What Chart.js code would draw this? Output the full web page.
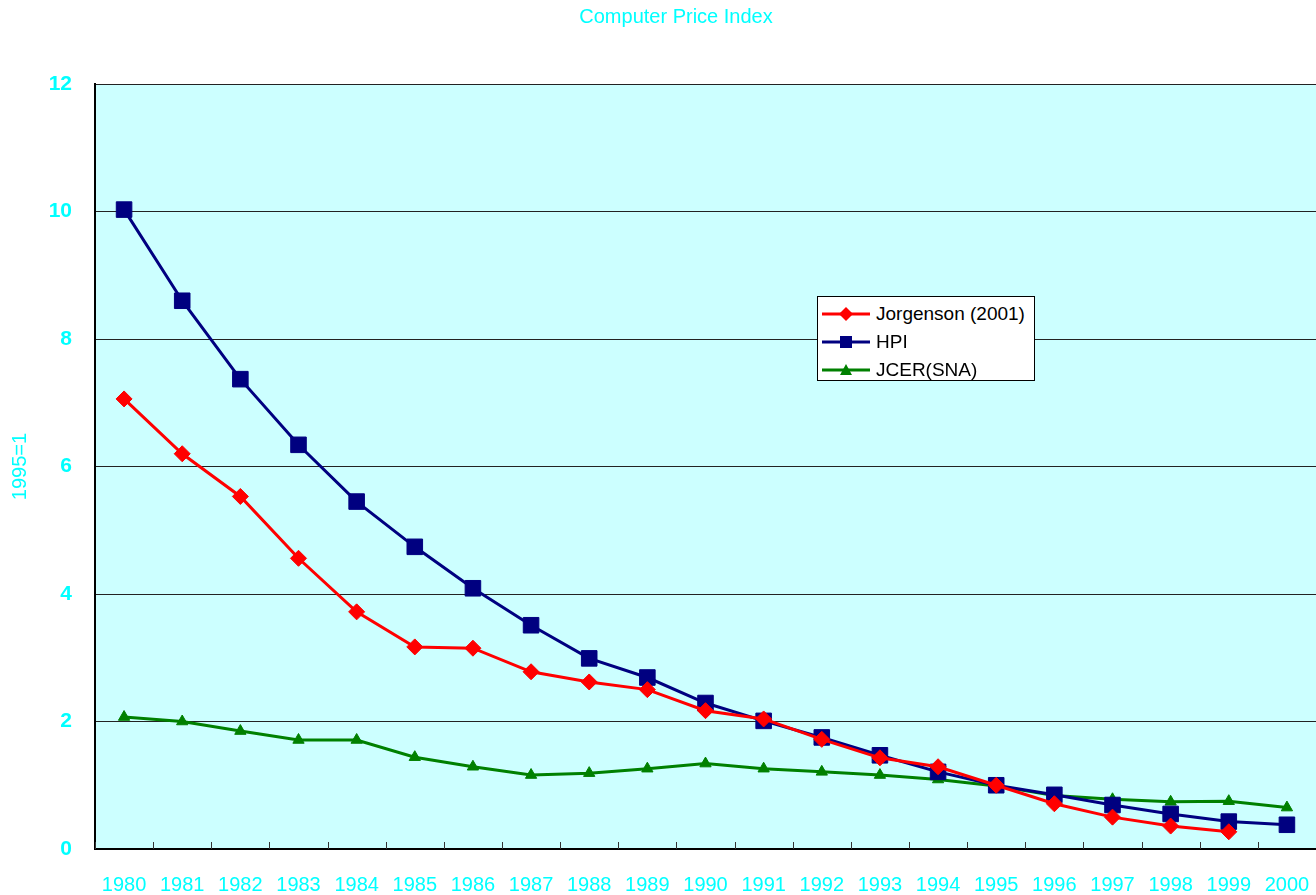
<!DOCTYPE html>
<html>
<head>
<meta charset="utf-8">
<script src="https://cdn.jsdelivr.net/npm/chart.js@4.4.0/dist/chart.umd.min.js"></script>
<style>
  html, body { margin: 0; padding: 0; background: #fff; }
  #wrap { position: relative; width: 1316px; height: 895px; }
  #legend { position: absolute; left: 817px; top: 296px; width: 216px; height: 83px;
            background: #fff; border: 1px solid #000; font-family: "Liberation Sans", Arial, sans-serif;
            font-size: 19px; color: #000; }
  .row { position: absolute; left: 4px; height: 28px; display: flex; align-items: center; white-space: nowrap; }
  .row svg { margin-right: 6px; }
</style>
</head>
<body>
<div id="wrap">
  <canvas id="c" width="1316" height="895"></canvas>
  <div id="legend"></div>
</div>
<script>
const years = ["1980","1981","1982","1983","1984","1985","1986","1987","1988","1989","1990",
               "1991","1992","1993","1994","1995","1996","1997","1998","1999","2000"];
const jorgenson = [7.06, 6.20, 5.53, 4.56, 3.72, 3.17, 3.15, 2.78, 2.62, 2.50, 2.17,
                   2.04, 1.72, 1.43, 1.29, 1.00, 0.71, 0.50, 0.36, 0.27, null];
const hpi = [10.03, 8.60, 7.37, 6.34, 5.45, 4.74, 4.09, 3.51, 2.99, 2.69, 2.29,
             2.01, 1.75, 1.47, 1.21, 1.00, 0.85, 0.69, 0.55, 0.43, 0.38];
const jcer = [2.07, 2.00, 1.85, 1.71, 1.71, 1.44, 1.29, 1.16, 1.19, 1.26, 1.34,
              1.26, 1.21, 1.16, 1.09, 0.99, 0.84, 0.78, 0.74, 0.75, 0.65];
const seriesNames = ["Jorgenson (2001)", "HPI", "JCER(SNA)"];
const yTicks = [0, 2, 4, 6, 8, 10, 12];

const cyan = "#00FFFF";
const fontFam = '"Liberation Sans", Arial, sans-serif';

const bgPlugin = {
  id: 'plotBg',
  afterLayout(chart) {
    // shift the title's box so it centres where the original does
    if (chart.titleBlock) chart.titleBlock.left = 36;
  },
  beforeDraw(chart) {
    const {ctx, chartArea: a} = chart;
    ctx.save();
    ctx.fillStyle = '#CCFFFF';
    ctx.fillRect(a.left, a.top, a.right - a.left, a.bottom - a.top);
    ctx.restore();
  },
  beforeDatasetsDraw(chart) {
    // inside tick marks on the category axis (between categories)
    const {ctx, chartArea: a} = chart;
    const xs = chart.scales.x;
    const step = xs.getPixelForValue(1) - xs.getPixelForValue(0);
    ctx.save();
    ctx.strokeStyle = '#333';
    ctx.lineWidth = 1;
    for (let i = 0; i <= years.length; i++) {
      const x = Math.round(xs.getPixelForValue(0) + (i - 0.5) * step) + 0.5;
      ctx.beginPath();
      ctx.moveTo(x, a.bottom);
      ctx.lineTo(x, a.bottom - 7);
      ctx.stroke();
    }
    ctx.restore();
  }
};

const chart = new Chart(document.getElementById('c'), {
  type: 'line',
  data: {
    labels: years,
    datasets: [
      { label: seriesNames[0], data: jorgenson, borderColor: '#FF0000', backgroundColor: '#FF0000',
        borderWidth: 3, pointStyle: 'rectRot', pointRadius: 8, pointBorderWidth: 1, pointHoverRadius: 8, tension: 0 },
      { label: seriesNames[1], data: hpi, borderColor: '#000080', backgroundColor: '#000080',
        borderWidth: 3, pointStyle: 'rect', pointRadius: 11, pointBorderWidth: 1, pointHoverRadius: 11, tension: 0 },
      { label: seriesNames[2], data: jcer, borderColor: '#008000', backgroundColor: '#008000',
        borderWidth: 3, pointStyle: 'triangle', pointRadius: 6.5, pointBorderWidth: 1, pointHoverRadius: 6.5, tension: 0 }
    ]
  },
  options: {
    responsive: false,
    animation: false,
    layout: { autoPadding: false, padding: { left: 0, right: 0, top: 0, bottom: 0 } },
    plugins: {
      legend: { display: false },
      tooltip: { enabled: false },
      title: {
        display: true,
        text: 'Computer Price Index',
        color: cyan,
        font: { family: fontFam, size: 20, weight: 'normal' },
        padding: { top: 5, bottom: 55 }
      }
    },
    scales: {
      x: {
        offset: true,
        grid: { display: true, drawOnChartArea: false, drawTicks: true, tickLength: 24, tickColor: 'rgba(0,0,0,0)', offset: true },
        border: { display: true, color: '#000', width: 2 },
        ticks: { color: cyan, font: { family: fontFam, size: 20 }, padding: 0, maxRotation: 0, autoSkip: false },
        afterFit(s) { s.height = 46; s.paddingLeft = 0; s.paddingRight = 0; }
      },
      y: {
        min: 0, max: 12,
        afterBuildTicks(s) { s.ticks = yTicks.map(v => ({ value: v })); },
        grid: { color: '#222', lineWidth: 1, drawTicks: false },
        border: { display: true, color: '#000', width: 2 },
        ticks: { color: cyan, font: { family: fontFam, size: 21, weight: 'bold' }, padding: 23 },
        title: { display: true, text: '1995=1', color: cyan, font: { family: fontFam, size: 20 }, padding: { top: 8, bottom: 0 } },
        afterFit(s) { s.width = 95; }
      }
    }
  },
  plugins: [bgPlugin]
});

// HTML legend built from the datasets
const legend = document.getElementById('legend');
const shapes = {
  rectRot: c => `<polygon points="24,3 31,10 24,17 17,10" fill="${c}"/>`,
  rect: c => `<rect x="18" y="4" width="12" height="12" fill="${c}"/>`,
  triangle: c => `<polygon points="24,4 30,15 18,15" fill="${c}"/>`
};
chart.data.datasets.forEach((ds, i) => {
  const row = document.createElement('div');
  row.className = 'row';
  row.style.top = (3 + i * 28) + 'px';
  row.innerHTML = `<svg width="48" height="20"><line x1="0" y1="10" x2="48" y2="10" stroke="${ds.borderColor}" stroke-width="3"/>${shapes[ds.pointStyle](ds.borderColor)}</svg><span>${ds.label}</span>`;
  legend.appendChild(row);
});
</script>
</body>
</html>
